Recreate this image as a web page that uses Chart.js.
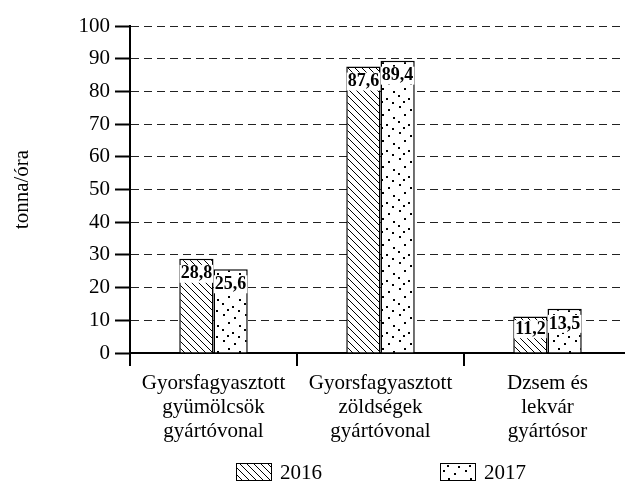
<!DOCTYPE html>
<html>
<head>
<meta charset="utf-8">
<script src="https://cdn.jsdelivr.net/npm/chart.js@4.4.0/dist/chart.umd.min.js"></script>
<style>
  html, body { margin: 0; padding: 0; background: #fff; overflow: hidden; }
  #wrap { width: 625px; height: 483px; overflow: hidden; }
  canvas { display: block; }
</style>
</head>
<body>
<div id="wrap"><canvas id="chart" width="632" height="483"></canvas></div>
<script>
// Data
var categories = [
    ['Gyorsfagyasztott', 'gyümölcsök', 'gyártóvonal'],
    ['Gyorsfagyasztott', 'zöldségek', 'gyártóvonal'],
    ['Dzsem és', 'lekvár', 'gyártósor']
];
var seriesNames = ['2016', '2017'];
var values2016 = [28.8, 87.6, 11.2];
var values2017 = [25.6, 89.4, 13.5];
var yMin = 0;
var yMax = 100;
var yStep = 10;
var yTitle = 'tonna/óra';

var serif = '"Liberation Serif", "Times New Roman", serif';
var canvas = document.getElementById('chart');
var ctx = canvas.getContext('2d');

// Diagonal hatch fill (2016)
function hatchPattern() {
    var c = document.createElement('canvas');
    c.width = 7; c.height = 7;
    var g = c.getContext('2d');
    g.fillStyle = '#fff';
    g.fillRect(0, 0, 7, 7);
    g.strokeStyle = '#000';
    g.lineWidth = 1;
    g.beginPath();
    g.moveTo(-1, -1); g.lineTo(8, 8);
    g.moveTo(-1, 6); g.lineTo(1, 8);
    g.moveTo(6, -1); g.lineTo(8, 1);
    g.stroke();
    return ctx.createPattern(c, 'repeat');
}

// Scattered dot fill (2017)
function dotPattern() {
    var c = document.createElement('canvas');
    c.width = 22; c.height = 26;
    var g = c.getContext('2d');
    g.fillStyle = '#fff';
    g.fillRect(0, 0, 22, 26);
    g.fillStyle = '#000';
    var dots = [[3, 2], [14, 5], [8, 10], [19, 13], [2, 17], [12, 20], [18, 24], [7, 23]];
    dots.forEach(function(d) {
        g.fillRect(d[0], d[1], 2, 2);
    });
    return ctx.createPattern(c, 'repeat');
}

// Value labels on bars
var valueLabels = {
    id: 'valueLabels',
    afterDatasetsDraw: function(chart) {
        var c = chart.ctx;
        c.save();
        c.font = 'bold 18px ' + serif;
        c.textAlign = 'center';
        c.textBaseline = 'middle';
        chart.data.datasets.forEach(function(ds, i) {
            chart.getDatasetMeta(i).data.forEach(function(bar, j) {
                var text = ds.data[j].toFixed(1).replace('.', ',');
                var w = c.measureText(text).width;
                var y = bar.y + Math.min(15, (bar.base - bar.y) * 0.3 + 2);
                c.fillStyle = '#fff';
                c.fillRect(bar.x - w / 2 - 1, y - 9, w + 2, 18);
                c.fillStyle = '#000';
                c.fillText(text, bar.x, y);
            });
        });
        c.restore();
    }
};

// Legend under the plot
var bottomLegend = {
    id: 'bottomLegend',
    afterDraw: function(chart) {
        var c = chart.ctx;
        var boxW = 36, boxH = 18, textGap = 8, gap = 118;
        c.save();
        c.font = '21px ' + serif;
        var sets = chart.data.datasets;
        var widths = sets.map(function(ds) {
            return boxW + textGap + c.measureText(ds.label).width;
        });
        var x = 236;
        var y = chart.height - 20;
        sets.forEach(function(ds, i) {
            c.fillStyle = ds.backgroundColor;
            c.fillRect(x, y, boxW, boxH);
            c.strokeStyle = '#000';
            c.lineWidth = 1;
            c.strokeRect(x + 0.5, y + 0.5, boxW - 1, boxH - 1);
            c.fillStyle = '#000';
            c.textBaseline = 'middle';
            c.textAlign = 'left';
            c.fillText(ds.label, x + boxW + textGap, y + boxH / 2 + 1);
            x += widths[i] + gap;
        });
        c.restore();
    }
};

new Chart(ctx, {
    type: 'bar',
    data: {
        labels: categories,
        datasets: [{
            label: seriesNames[0],
            data: values2016,
            backgroundColor: hatchPattern(),
            borderColor: '#000',
            borderWidth: 1.5
        }, {
            label: seriesNames[1],
            data: values2017,
            backgroundColor: dotPattern(),
            borderColor: '#000',
            borderWidth: 1.5
        }]
    },
    options: {
        responsive: false,
        animation: false,
        layout: { padding: { top: 26, right: 1, bottom: 36, left: 0 } },
        datasets: {
            bar: { categoryPercentage: 0.41, barPercentage: 1 }
        },
        plugins: {
            legend: { display: false },
            tooltip: { enabled: false }
        },
        scales: {
            x: {
                afterFit: function(scale) { scale.height = 94; },
                grid: {
                    display: true,
                    drawOnChartArea: false,
                    offset: true,
                    color: '#000',
                    lineWidth: 2,
                    tickLength: 13
                },
                border: { color: '#000', width: 2 },
                ticks: {
                    color: '#000',
                    padding: 5,
                    autoSkip: false,
                    maxRotation: 0,
                    font: { family: serif, size: 21, lineHeight: 1.16 }
                }
            },
            y: {
                min: yMin,
                max: yMax,
                afterFit: function(scale) { scale.width = 130; },
                grid: {
                    color: '#222',
                    lineWidth: 1,
                    tickBorderDash: [],
                    tickColor: '#000',
                    tickWidth: 2,
                    tickLength: 15
                },
                border: { color: '#000', width: 2, dash: [8, 5] },
                ticks: {
                    stepSize: yStep,
                    color: '#000',
                    padding: 5,
                    font: { family: serif, size: 21 }
                },
                title: {
                    display: true,
                    text: yTitle,
                    color: '#000',
                    padding: { top: 10, bottom: 0 },
                    font: { family: serif, size: 21 }
                }
            }
        }
    },
    plugins: [valueLabels, bottomLegend]
});
</script>
</body>
</html>
